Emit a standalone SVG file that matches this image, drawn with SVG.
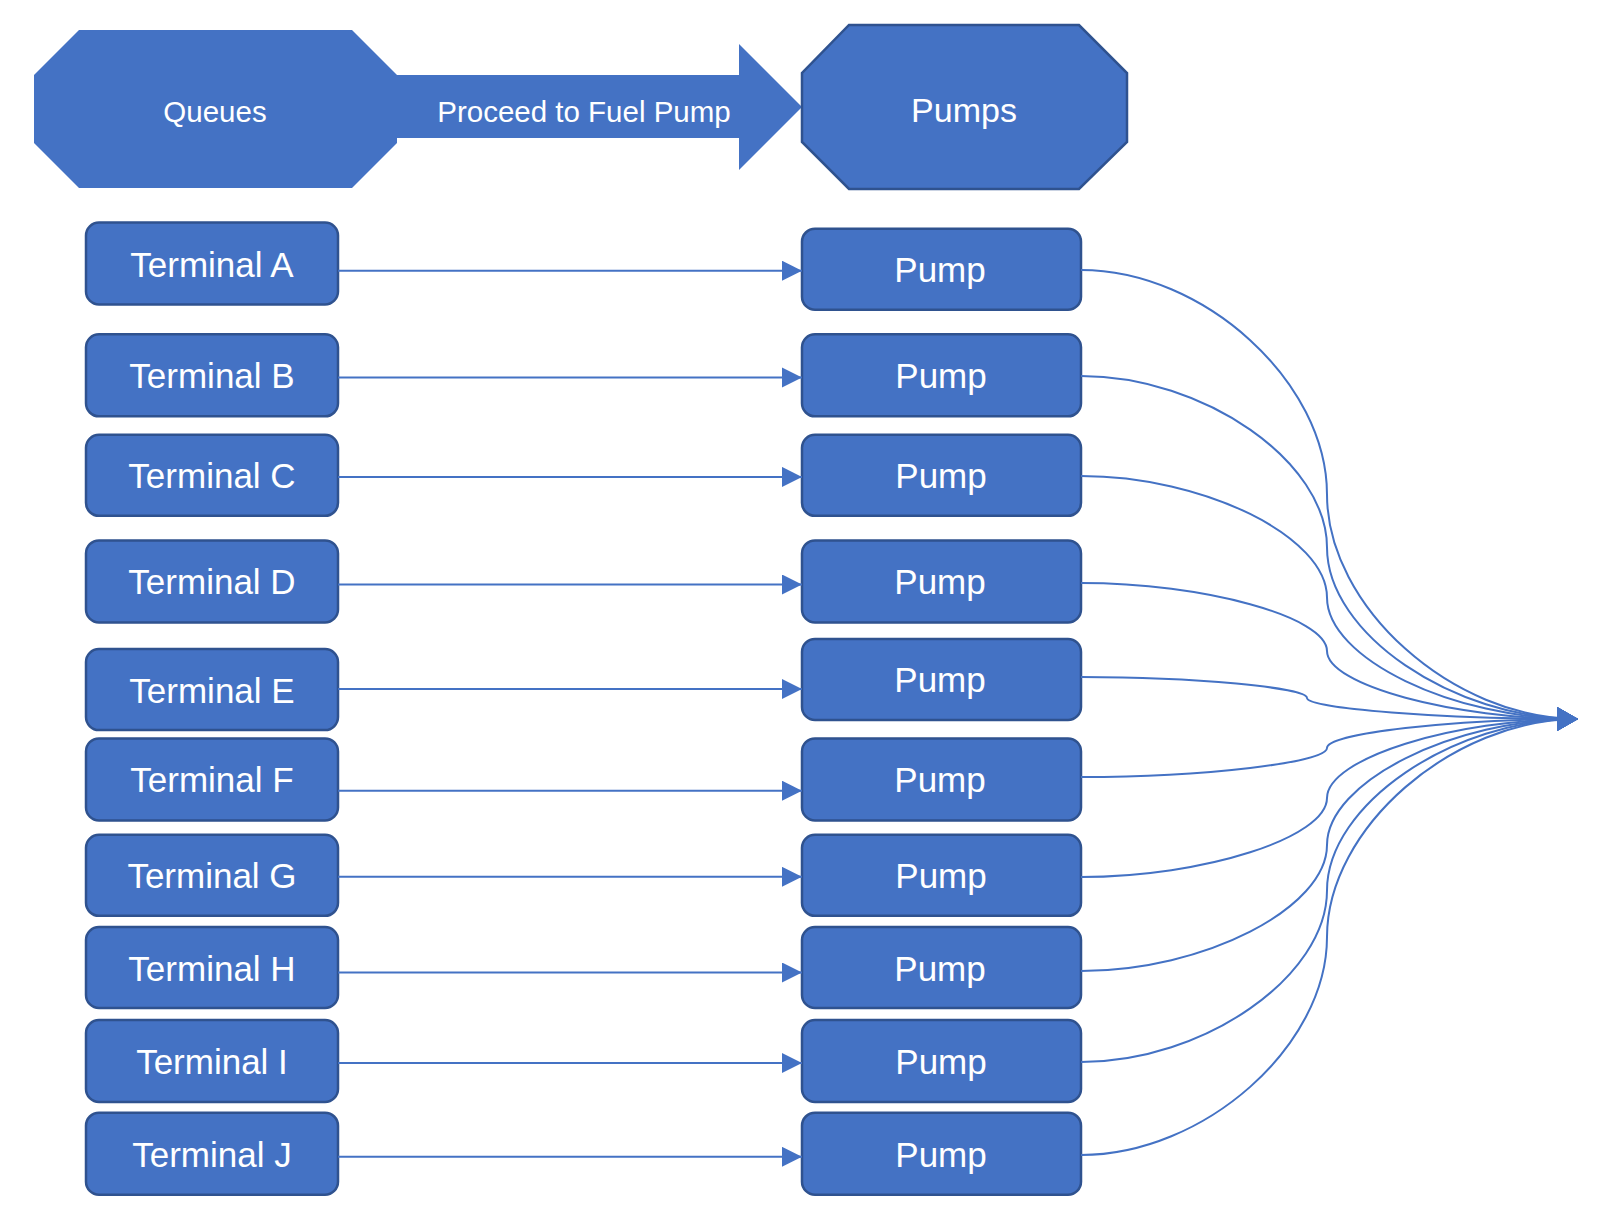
<svg xmlns="http://www.w3.org/2000/svg" width="1608" height="1224" viewBox="0 0 1608 1224">
<style>
.box{fill:#4472C4;stroke:#2F528F;stroke-width:2.5}
.shape{fill:#4472C4}
.lbl{fill:#fff;font-family:"Liberation Sans",Arial,sans-serif;text-anchor:middle}
.t{font-size:35px}
.h{font-size:29.5px}
.c{fill:none;stroke:#4472C4;stroke-width:2}
</style>
<defs>
<marker id="ah" markerUnits="userSpaceOnUse" markerWidth="22" markerHeight="22" refX="20" refY="10" orient="auto">
<path d="M0,0 L20,10 L0,20 Z" fill="#4472C4"/>
</marker>
<marker id="ahBig" markerUnits="userSpaceOnUse" markerWidth="24" markerHeight="26" refX="21" refY="12" orient="auto">
<path d="M0,0 L21,12 L0,24 Z" fill="#4472C4"/>
</marker>
</defs>
<rect width="1608" height="1224" fill="#fff"/>

<g id="queues">
<polygon class="shape" points="79,30 352,30 397,75 397,143 352,188 79,188 34,143 34,75"/>
<text class="lbl h" x="215" y="122">Queues</text>
</g>
<g id="proceed">
<polygon class="shape" points="396,75 739,75 739,44 802,107 739,170 739,138 396,138"/>
<text class="lbl h" x="584" y="122">Proceed to Fuel Pump</text>
</g>
<g id="pumps">
<polygon class="box" points="849,25 1079,25 1127,73 1127,142 1079,189 849,189 802,142 802,73"/>
<text class="lbl" style="font-size:34px" x="964" y="122">Pumps</text>
</g>

<g id="terminal-a"><rect class="box" x="86" y="222.5" width="252" height="82" rx="13"/><text class="lbl t" x="212" y="276.5">Terminal A</text></g>
<g id="terminal-b"><rect class="box" x="86" y="334.3" width="252" height="82" rx="13"/><text class="lbl t" x="212" y="388.3">Terminal B</text></g>
<g id="terminal-c"><rect class="box" x="86" y="434.8" width="252" height="81" rx="13"/><text class="lbl t" x="212" y="488.3">Terminal C</text></g>
<g id="terminal-d"><rect class="box" x="86" y="540.4" width="252" height="82" rx="13"/><text class="lbl t" x="212" y="594.4">Terminal D</text></g>
<g id="terminal-e"><rect class="box" x="86" y="649.1" width="252" height="81" rx="13"/><text class="lbl t" x="212" y="702.6">Terminal E</text></g>
<g id="terminal-f"><rect class="box" x="86" y="738.4" width="252" height="82" rx="13"/><text class="lbl t" x="212" y="792.4">Terminal F</text></g>
<g id="terminal-g"><rect class="box" x="86" y="834.8" width="252" height="81" rx="13"/><text class="lbl t" x="212" y="888.3">Terminal G</text></g>
<g id="terminal-h"><rect class="box" x="86" y="927" width="252" height="81" rx="13"/><text class="lbl t" x="212" y="980.5">Terminal H</text></g>
<g id="terminal-i"><rect class="box" x="86" y="1020" width="252" height="82" rx="13"/><text class="lbl t" x="212" y="1074">Terminal I</text></g>
<g id="terminal-j"><rect class="box" x="86" y="1112.7" width="252" height="82" rx="13"/><text class="lbl t" x="212" y="1166.7">Terminal J</text></g>

<g id="pump-a"><rect class="box" x="802" y="228.7" width="279" height="81" rx="13"/><text class="lbl t" x="940" y="282">Pump</text></g>
<g id="pump-b"><rect class="box" x="802" y="334.3" width="279" height="82" rx="13"/><text class="lbl t" x="941" y="388.3">Pump</text></g>
<g id="pump-c"><rect class="box" x="802" y="434.8" width="279" height="81" rx="13"/><text class="lbl t" x="941" y="488.3">Pump</text></g>
<g id="pump-d"><rect class="box" x="802" y="540.4" width="279" height="82" rx="13"/><text class="lbl t" x="940" y="594.4">Pump</text></g>
<g id="pump-e"><rect class="box" x="802" y="638.9" width="279" height="81" rx="13"/><text class="lbl t" x="940" y="692.4">Pump</text></g>
<g id="pump-f"><rect class="box" x="802" y="738.4" width="279" height="82" rx="13"/><text class="lbl t" x="940" y="792.4">Pump</text></g>
<g id="pump-g"><rect class="box" x="802" y="834.8" width="279" height="81" rx="13"/><text class="lbl t" x="941" y="888.3">Pump</text></g>
<g id="pump-h"><rect class="box" x="802" y="927" width="279" height="81" rx="13"/><text class="lbl t" x="940" y="980.5">Pump</text></g>
<g id="pump-i"><rect class="box" x="802" y="1020" width="279" height="82" rx="13"/><text class="lbl t" x="941" y="1074">Pump</text></g>
<g id="pump-j"><rect class="box" x="802" y="1112.7" width="279" height="82" rx="13"/><text class="lbl t" x="941" y="1166.7">Pump</text></g>

<g id="connectors">
<path class="c" marker-end="url(#ah)" d="M338,270.7 H802"/>
<path class="c" marker-end="url(#ah)" d="M338,377.4 H802"/>
<path class="c" marker-end="url(#ah)" d="M338,476.9 H802"/>
<path class="c" marker-end="url(#ah)" d="M338,584.5 H802"/>
<path class="c" marker-end="url(#ah)" d="M338,689.1 H802"/>
<path class="c" marker-end="url(#ah)" d="M338,790.7 H802"/>
<path class="c" marker-end="url(#ah)" d="M338,876.8 H802"/>
<path class="c" marker-end="url(#ah)" d="M338,972.5 H802"/>
<path class="c" marker-end="url(#ah)" d="M338,1063 H802"/>
<path class="c" marker-end="url(#ah)" d="M338,1156.8 H802"/>

<path class="c" marker-end="url(#ahBig)" d="M1081,270 C1204,270 1327,382.25 1327,494.5 C1327,606.75 1452.5,719 1578,719"/>
<path class="c" marker-end="url(#ahBig)" d="M1081,376 C1204,376 1327,461.75 1327,547.5 C1327,633.25 1452.5,719 1578,719"/>
<path class="c" marker-end="url(#ahBig)" d="M1081,476 C1204,476 1327,536.75 1327,597.5 C1327,658.25 1452.5,719 1578,719"/>
<path class="c" marker-end="url(#ahBig)" d="M1081,583 C1204,583 1327,617 1327,651 C1327,685 1452.5,719 1578,719"/>
<path class="c" marker-end="url(#ahBig)" d="M1081,677 C1194,677 1307,687.5 1307,698 C1307,708.5 1442.5,719 1578,719"/>
<path class="c" marker-end="url(#ahBig)" d="M1081,777 C1204,777 1327,762.5 1327,748 C1327,733.5 1452.5,719 1578,719"/>
<path class="c" marker-end="url(#ahBig)" d="M1081,877 C1204,877 1327,837.5 1327,798 C1327,758.5 1452.5,719 1578,719"/>
<path class="c" marker-end="url(#ahBig)" d="M1081,971 C1204,971 1327,908 1327,845 C1327,782 1452.5,719 1578,719"/>
<path class="c" marker-end="url(#ahBig)" d="M1081,1062 C1204,1062 1327,976.25 1327,890.5 C1327,804.75 1452.5,719 1578,719"/>
<path class="c" marker-end="url(#ahBig)" d="M1081,1155 C1204,1155 1327,1046 1327,937 C1327,828 1452.5,719 1578,719"/>
</g>
</svg>
